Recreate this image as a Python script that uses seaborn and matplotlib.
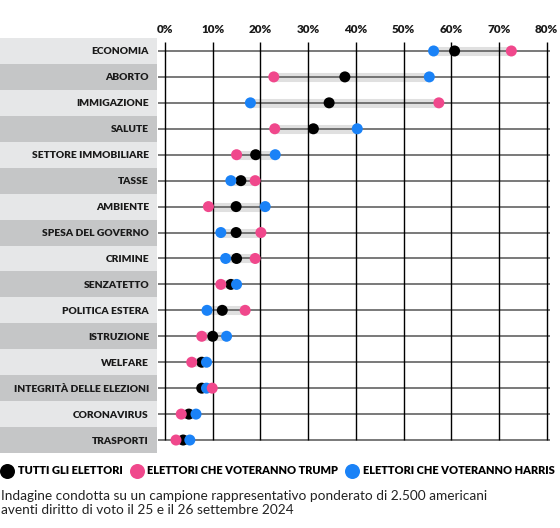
import matplotlib
matplotlib.use("Agg")
from matplotlib import pyplot as plt
from matplotlib.lines import Line2D
import pandas as pd
import seaborn as sns

# **************************************************************************
# data (share of voters, %)

issues = ['ECONOMIA', 'ABORTO', 'IMMIGAZIONE', 'SALUTE', 'SETTORE IMMOBILIARE',
          'TASSE', 'AMBIENTE', 'SPESA DEL GOVERNO', 'CRIMINE', 'SENZATETTO',
          'POLITICA ESTERA', 'ISTRUZIONE', 'WELFARE', 'INTEGRITÀ DELLE ELEZIONI',
          'CORONAVIRUS', 'TRASPORTI']
all_voters = [60.7, 37.7, 34.4, 31.1, 19.0, 15.9, 14.9, 14.9, 15.0, 13.8,
              12.0, 10.0, 7.7, 7.7, 5.0, 3.8]
trump_voters = [72.6, 22.8, 57.4, 23.0, 15.0, 18.9, 9.1, 20.1, 18.9, 11.7,
                16.8, 7.7, 5.6, 9.9, 3.4, 2.3]
harris_voters = [56.3, 55.4, 17.9, 40.3, 23.1, 13.8, 21.0, 11.7, 12.7, 15.0,
                 8.8, 12.9, 8.7, 8.7, 6.5, 5.2]

group_names = ['TUTTI GLI ELETTORI', 'ELETTORI CHE VOTERANNO TRUMP',
               'ELETTORI CHE VOTERANNO HARRIS']
group_colors = ['#000000', '#f0488c', '#1a82f7']
x_ticks = [0, 10, 20, 30, 40, 50, 60, 70, 80]
x_tick_labels = ['0%', '10%', '20%', '30%', '40%', '50%', '60%', '70%', '80%']

footnote = ('Indagine condotta su un campione rappresentativo ponderato di 2.500 americani\n'
            'aventi diritto di voto il 25 e il 26 settembre 2024')

# **************************************************************************


def build_frame():
    # black first, then harris, then trump so pink sits on top when dots overlap
    parts = [
        pd.DataFrame({'issue': issues, 'value': all_voters, 'group': group_names[0]}),
        pd.DataFrame({'issue': issues, 'value': harris_voters, 'group': group_names[2]}),
        pd.DataFrame({'issue': issues, 'value': trump_voters, 'group': group_names[1]}),
    ]
    return pd.concat(parts, ignore_index=True)


def draw_chart(df):
    plt.rcParams['font.family'] = ['Lato', 'DejaVu Sans']
    W, H = 560, 528
    fig = plt.figure(figsize=(W / 100, H / 100), dpi=100)
    ax = fig.add_axes([158 / W, 1 - 453 / H, 392 / W, 415 / H])

    n = len(issues)
    rows = list(range(n))

    # grey label bands on the left
    for i in rows:
        band = '#e6e7e8' if i % 2 == 0 else '#c5c6c7'
        ax.axhspan(i - 0.5, i + 0.5, xmin=-158 / 392, xmax=-1 / 392,
                   color=band, lw=0, clip_on=False, zorder=0)

    # light range bar between min and max
    lows = [min(a, b, c) for a, b, c in zip(all_voters, trump_voters, harris_voters)]
    highs = [max(a, b, c) for a, b, c in zip(all_voters, trump_voters, harris_voters)]
    ax.hlines(rows, lows, highs, color='#e0e0e0', lw=6.5, zorder=1)

    for i in rows:
        ax.axhline(i, color='#555555', lw=1.1, zorder=2)
    ax.vlines(x_ticks, -0.35, n - 1, color='black', lw=1.0, zorder=2)

    sns.scatterplot(data=df, x='value', y='issue', hue='group',
                    hue_order=group_names, palette=group_colors,
                    s=63, linewidth=0, legend=False, ax=ax, zorder=4)

    ax.set_xlim(-1.47, 80.7)
    ax.set_ylim(n - 0.5, -0.5)
    ax.set_xticks(x_ticks)
    ax.set_xticklabels(x_tick_labels)
    ax.set_yticks(rows)
    ax.set_yticklabels(issues)
    ax.tick_params(axis='x', top=True, bottom=False, labeltop=True,
                   labelbottom=False, length=0, pad=2.5, labelsize=8.4,
                   labelcolor='#1a1a1a')
    ax.tick_params(axis='y', length=0, pad=6.5, labelsize=7.4, labelcolor='#1a1a1a')
    for lab in ax.get_xticklabels() + ax.get_yticklabels():
        lab.set_fontweight('heavy')
    ax.set_xlabel('')
    ax.set_ylabel('')
    for s in ax.spines.values():
        s.set_visible(False)

    handles = [Line2D([], [], marker='o', ls='', color=c, markersize=10.8, markeredgewidth=0)
               for c in group_colors]
    fig.legend(handles=handles, labels=group_names, ncol=3, loc='center left',
               bbox_to_anchor=(1 / W, 1 - 471 / H), frameon=False,
               handlelength=1.1, handletextpad=0.42, columnspacing=0.75,
               borderaxespad=0, borderpad=0,
               prop={'weight': 'heavy', 'size': 7.9})

    fig.text(1 / W, 1 - 490 / H, footnote, ha='left', va='top',
             fontsize=9.8, linespacing=1.25, color='#222222')

    fig.savefig('out.png', dpi=100)


# **************************************************************************


draw_chart(build_frame())
